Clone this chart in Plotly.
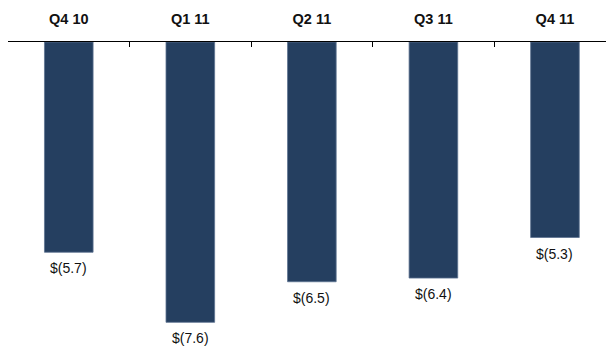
import plotly.graph_objects as go

categories = ["Q4 10", "Q1 11", "Q2 11", "Q3 11", "Q4 11"]
values = [-5.7, -7.6, -6.5, -6.4, -5.3]
labels = ["$(5.7)", "$(7.6)", "$(6.5)", "$(6.4)", "$(5.3)"]

fig = go.Figure()
fig.add_trace(go.Bar(
    x=categories, y=values, width=0.40,
    marker=dict(color="#253f60", line=dict(color="#5d7290", width=0.8)),
    hoverinfo="skip",
))
for c, v, t in zip(categories, values, labels):
    fig.add_annotation(x=c, y=v, text=t, showarrow=False, yanchor="top", yshift=-6,
                       font=dict(family="Liberation Sans, Arial", size=14, color="#111111"))

fig.update_layout(
    width=606, height=350,
    margin=dict(l=8, r=0, t=42, b=0),
    paper_bgcolor="white", plot_bgcolor="white",
    showlegend=False,
    xaxis=dict(side="top", range=[-0.5, 4.42], showline=True, linecolor="#000000", linewidth=1,
               ticks="inside", ticklen=5, tickcolor="#000000", tickson="boundaries",
               showgrid=False, ticklabelstandoff=11,
               tickfont=dict(family="Liberation Sans, Arial", size=14.5, color="#111111", weight="bold")),
    yaxis=dict(range=[-8.35, 0], visible=False, showgrid=False, zeroline=False),
)
fig.write_html("out.html")
